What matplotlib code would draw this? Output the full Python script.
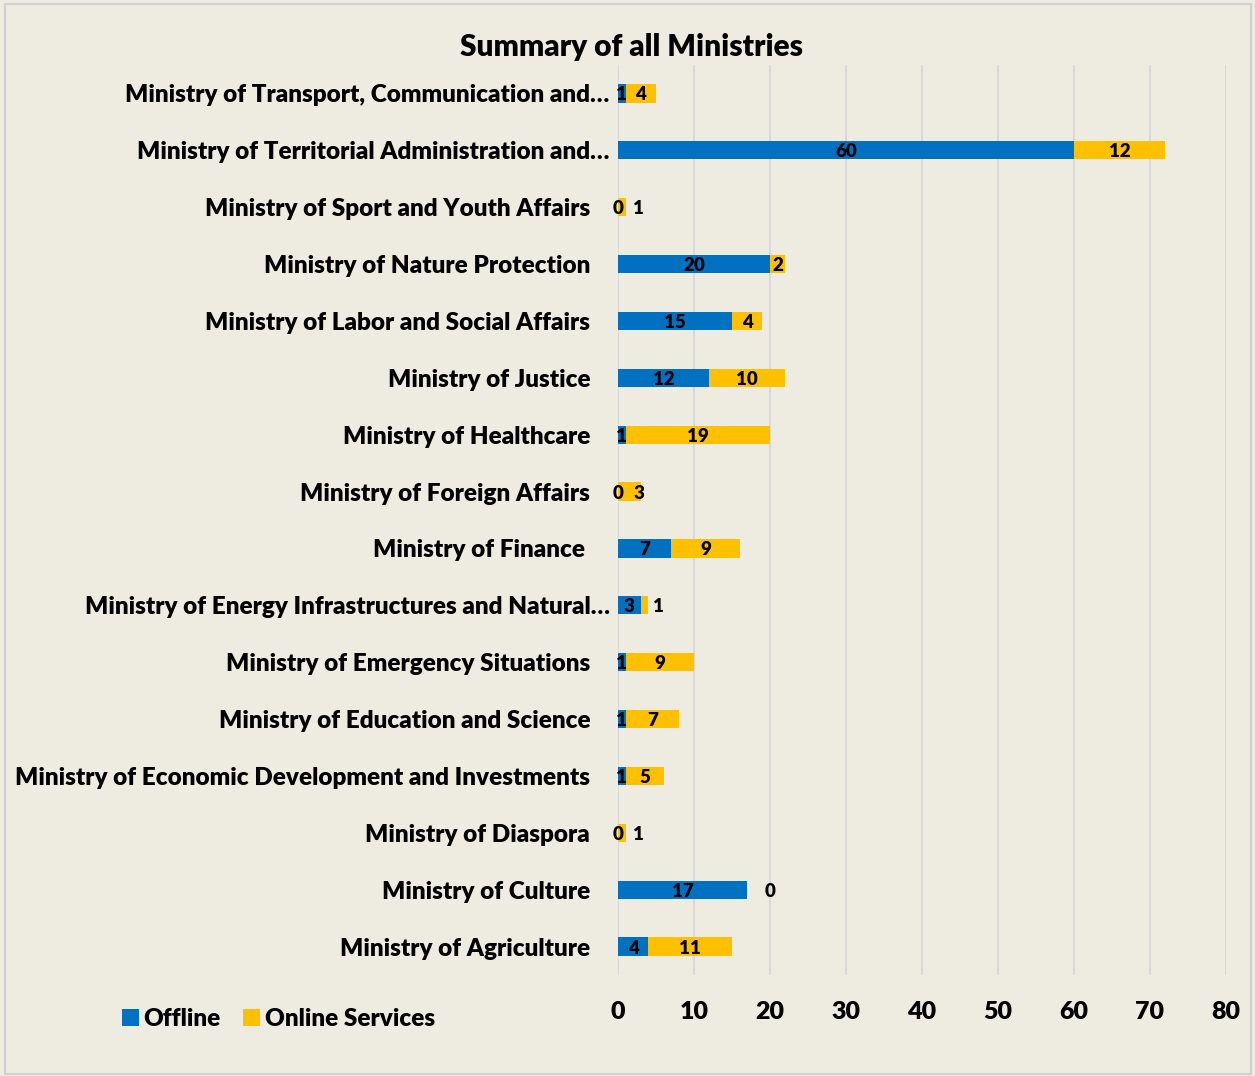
import numpy as np
import matplotlib.pyplot as plt
from matplotlib.patches import Rectangle

plt.rcParams['font.family'] = ['Lato', 'DejaVu Sans']
W = "heavy"

# bottom to top, as drawn
ministries = [
    "Ministry of Agriculture",
    "Ministry of Culture",
    "Ministry of Diaspora",
    "Ministry of Economic Development and Investments",
    "Ministry of Education and Science",
    "Ministry of Emergency Situations",
    "Ministry of Energy Infrastructures and Natural\u2026",
    "Ministry of Finance ",
    "Ministry of Foreign Affairs",
    "Ministry of Healthcare",
    "Ministry of Justice",
    "Ministry of Labor and Social Affairs",
    "Ministry of Nature Protection",
    "Ministry of Sport and Youth Affairs",
    "Ministry of Territorial Administration and\u2026",
    "Ministry of Transport, Communication and\u2026",
]
offline = [4, 17, 0, 1, 1, 1, 3, 7, 0, 1, 12, 15, 20, 0, 60, 1]
online = [11, 0, 1, 5, 7, 9, 1, 9, 3, 19, 10, 4, 2, 1, 12, 4]
xticks = [0, 10, 20, 30, 40, 50, 60, 70, 80]

BLUE = "#0070C0"
YELLOW = "#FFC000"
BG = "#EEECE1"

fig = plt.figure(figsize=(12.55, 10.76), dpi=100, facecolor=BG)
fig.patches.append(Rectangle((0.004, 0.002), 0.993, 0.994, transform=fig.transFigure,
                             fill=False, edgecolor="#D0D0D0", lw=1.5))
ax = fig.add_axes([618 / 1255, 1 - 975 / 1076, (1226 - 618) / 1255, (975 - 65) / 1076])
ax.set_facecolor(BG)

y = np.arange(len(ministries))
h = 0.32
ax.barh(y, offline, height=h, color=BLUE, label="Offline", zorder=3)
ax.barh(y, online, left=offline, height=h, color=YELLOW, label="Online Services", zorder=3)

for i in range(len(ministries)):
    off, on = offline[i], online[i]
    ax.text(off / 2, y[i], str(off), ha="center", va="center_baseline", fontsize=13.5,
            fontweight=W, zorder=4)
    if off == 0:
        xo = 2.7
    elif on >= 2:
        xo = off + on / 2
    elif on == 0:
        xo = off + 3
    else:
        xo = off + on + 1.3
    ax.text(xo, y[i], str(on), ha="center", va="center_baseline", fontsize=13.5,
            fontweight=W, zorder=4)

ax.set_xlim(0, 80)
ax.set_ylim(-0.5, len(ministries) - 0.5)
ax.set_xticks(xticks)
ax.set_yticks(y)
ax.set_yticklabels(ministries)
ax.tick_params(axis="both", length=0)
ax.tick_params(axis="x", labelsize=18, pad=19)
ax.tick_params(axis="y", labelsize=17.5, pad=20)
for lab in ax.get_xticklabels() + ax.get_yticklabels():
    lab.set_fontweight(W)
for i, name in enumerate(ministries):
    if name.endswith("\u2026"):
        ax.yaxis.get_major_ticks()[i].set_pad(6)

ax.grid(axis="x", color="#D9D9D9", lw=1.5, zorder=0)
for s in ax.spines.values():
    s.set_visible(False)

fig.text(632 / 1255, 1 - 47 / 1076, "Summary of all Ministries", ha="center", va="center",
         fontsize=21.5, fontweight=W)

fig.legend(loc="center left", bbox_to_anchor=(100 / 1255, 1 - 1019 / 1076), ncol=2,
           frameon=False, prop={"size": 17.5, "weight": W}, handlelength=0.7,
           handleheight=0.7, handletextpad=0.2, columnspacing=0.9)

fig.savefig("out.png", dpi=100, facecolor=BG)
